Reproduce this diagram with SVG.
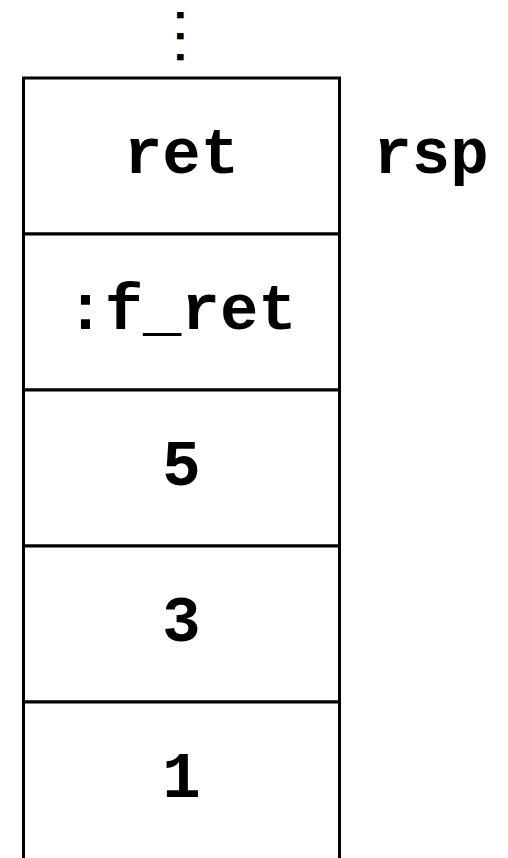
<svg xmlns="http://www.w3.org/2000/svg" width="508" height="858" viewBox="0 0 508 858">
<style>
.cell{fill:#fff;stroke:#000;stroke-width:3}
.lbl{font-family:"Liberation Mono","Courier New",monospace;font-weight:bold;font-size:64px;fill:#000;text-anchor:middle}
.dots{font-family:"Liberation Mono","Courier New",monospace;font-weight:bold;font-size:44px;letter-spacing:-5.4px;fill:#000;text-anchor:middle}
</style>
<rect width="508" height="858" fill="#fff"/>
<g id="ellipsis">
<text class="dots" x="0" y="0" transform="translate(176.5 33.5) rotate(90)">...</text>
</g>
<g id="cell-ret"><rect class="cell" x="23.5" y="78" width="316" height="156"/><text class="lbl" x="181.5" y="173">ret</text></g>
<g id="cell-f_ret"><rect class="cell" x="23.5" y="234" width="316" height="156"/><text class="lbl" x="181.5" y="329">:f_ret</text></g>
<g id="cell-5"><rect class="cell" x="23.5" y="390" width="316" height="156"/><text class="lbl" x="181.5" y="485">5</text></g>
<g id="cell-3"><rect class="cell" x="23.5" y="546" width="316" height="156"/><text class="lbl" x="181.5" y="641">3</text></g>
<g id="cell-1"><rect class="cell" x="23.5" y="702" width="316" height="160"/><text class="lbl" x="181.5" y="797">1</text></g>
<g id="rsp"><text class="lbl" x="431" y="173">rsp</text></g>
<g id="connectors"/>
</svg>
